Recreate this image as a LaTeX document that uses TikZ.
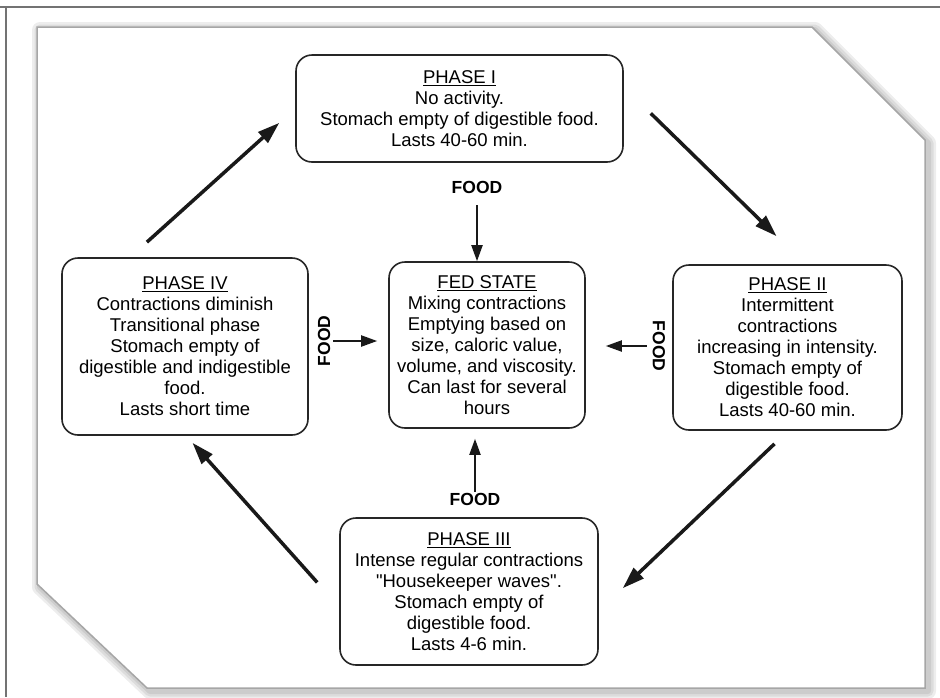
\documentclass[tikz,border=0pt]{standalone}
\usepackage{fontspec}
\setmainfont{Liberation Sans}
\usetikzlibrary{arrows.meta}

\begin{document}
\begin{tikzpicture}[x=1pt, y=-1pt,
        phase/.style={draw=black!85, line width=1.6pt, rounded corners=16pt, align=center, inner sep=0pt, font=\fontsize{18.5}{21}\selectfont},
        foodlabel/.style={inner sep=1pt, font=\fontsize{17.5}{20}\selectfont\bfseries},
        phasearrow/.style={black!90, line width=3.5pt, -{Triangle[length=22pt, width=14pt]}},
        foodarrow/.style={black!90, line width=2pt, -{Triangle[length=16pt, width=11pt]}}]
        \useasboundingbox (0,0) rectangle (940,697);
        \draw[black!55, line width=1.5pt] (0,7) -- (940,7);
        \draw[black!55, line width=1.5pt] (6,7) -- (6,697);

        \foreach \w in {16,11,6}
            \draw[black, opacity=0.07, line width=\w pt, line join=round, shift={(3,3)}]
                (37,27) -- (812,27) -- (925,140) -- (925,688) -- (147,688) -- (37,584) -- cycle;
        \draw[black!35, fill=white, line width=1.5pt]
            (37,27) -- (812,27) -- (925,140) -- (925,688) -- (147,688) -- (37,584) -- cycle;

        \node[phase, minimum width=327pt, minimum height=107pt] (p1) at (459.5, 108.5) {\underline{PHASE I}\\No activity.\\Stomach empty of digestible food.\\Lasts 40-60 min.};
        \node[phase, minimum width=229pt, minimum height=165pt] (p2) at (787.5, 347.5) {\underline{PHASE II}\\Intermittent\\contractions\\increasing in intensity.\\Stomach empty of\\digestible food.\\Lasts 40-60 min.};
        \node[phase, minimum width=258pt, minimum height=147pt] (p3) at (469, 591.5) {\underline{PHASE III}\\Intense regular contractions\\\textquotedbl Housekeeper waves\textquotedbl.\\Stomach empty of\\digestible food.\\Lasts 4-6 min.};
        \node[phase, minimum width=246pt, minimum height=177pt] (p4) at (185, 346.5) {\underline{PHASE IV}\\Contractions diminish\\Transitional phase\\Stomach empty of\\digestible and indigestible\\food.\\Lasts short time};
        \node[phase, minimum width=196pt, minimum height=166pt] (fed) at (487, 345) {\underline{FED STATE}\\Mixing contractions\\Emptying based on\\size, caloric value,\\volume, and viscosity.\\Can last for several\\hours};

        \node[foodlabel] (ftop) at (477, 187) {FOOD};
        \node[foodlabel, rotate=90] (fleft) at (324, 341) {FOOD};
        \node[foodlabel, rotate=-90] (fright) at (659, 346) {FOOD};
        \node[foodlabel] (fbot) at (475, 499) {FOOD};

        \draw[phasearrow, shorten <=22.5pt, shorten >=21.4pt] ([xshift=69pt]p4.north west) -- (p1.west);
        \draw[phasearrow, shorten <=37.7pt, shorten >=40.1pt] ([yshift=21.5pt]p1.east) -- ([xshift=133pt]p2.north west);
        \draw[phasearrow, shorten <=18.9pt, shorten >=33.1pt] ([xshift=116pt]p2.south west) -- ([yshift=-19.5pt]p3.east);
        \draw[phasearrow, shorten <=33pt, shorten >=9.4pt] ([yshift=-15.5pt]p3.west) -- ([xshift=125pt]p4.south west);

        \draw[foodarrow, shorten <=11pt] (ftop.south) -- (ftop.south |- fed.north);
        \draw[foodarrow, shorten <=2pt, shorten >=11pt] (fleft.south) -- (fleft.south -| fed.west);
        \draw[foodarrow, shorten <=5pt, shorten >=20pt] (fright.south) -- (fright.south -| fed.east);
        \draw[foodarrow, shorten >=10pt] (fbot.north) -- (fbot.north |- fed.south);
    \end{tikzpicture}
\end{document}
